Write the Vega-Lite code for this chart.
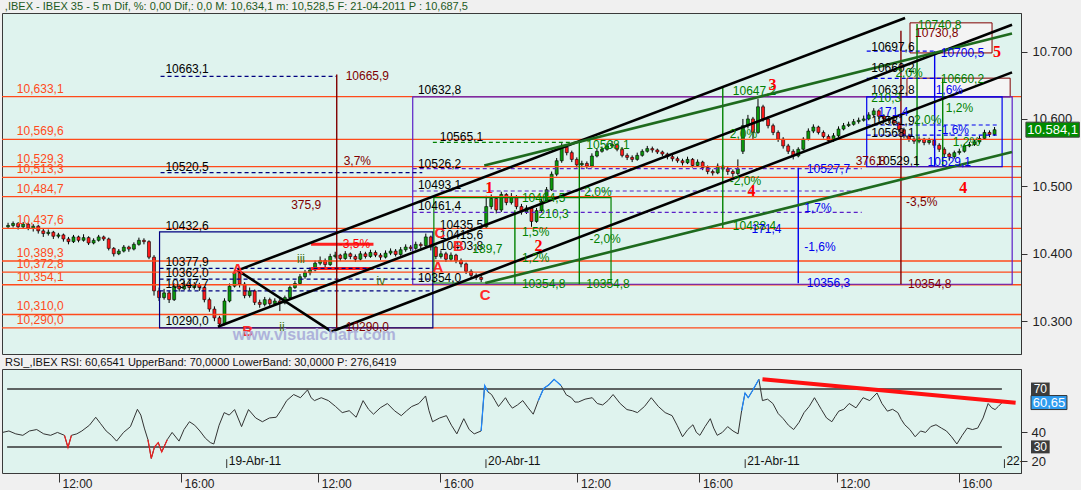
{
"$schema":"https://vega.github.io/schema/vega-lite/v6.json",
"padding":0,
"background":"#f0f0f0",
"spacing":1,
"title":{"text":",IBEX - IBEX 35 -  5 m Dif, %: 0,00 Dif,: 0,0 M: 10,634,1 m: 10,528,5 F: 21-04-2011 P : 10,687,5","anchor":"start","fontSize":11,"font":"Liberation Sans","fontWeight":"normal","color":"#1d5a1d","offset":1,"dx":4},
"config":{"view":{"stroke":"#3a3a3a","fill":"#dff3ee"},"axis":{"labelFont":"Liberation Sans","labelFontSize":12,"labelColor":"#222222","domainColor":"#333333","tickColor":"#333333","grid":false,"labelOverlap":false},"text":{"font":"Liberation Sans","fontSize":11}},
"datasets":{
"candles":[
{"i":7,"o":10440,"h":10446,"l":10437,"c":10442},{"i":8,"o":10442,"h":10448,"l":10439,"c":10445},{"i":9,"o":10445,"h":10447,"l":10436,"c":10440},{"i":10,"o":10440,"h":10447,"l":10438,"c":10444},{"i":11,"o":10444,"h":10446,"l":10435,"c":10438},{"i":12,"o":10438,"h":10444,"l":10433,"c":10441},{"i":13,"o":10441,"h":10443,"l":10430,"c":10434},{"i":14,"o":10434,"h":10437,"l":10425,"c":10430},{"i":15,"o":10430,"h":10436,"l":10427,"c":10432},{"i":16,"o":10432,"h":10434,"l":10422,"c":10426},{"i":17,"o":10426,"h":10431,"l":10423,"c":10428},{"i":18,"o":10428,"h":10430,"l":10418,"c":10422},{"i":19,"o":10422,"h":10425,"l":10414,"c":10418},{"i":20,"o":10418,"h":10428,"l":10416,"c":10425},{"i":21,"o":10425,"h":10427,"l":10417,"c":10420},{"i":22,"o":10420,"h":10429,"l":10418,"c":10424},{"i":23,"o":10424,"h":10426,"l":10413,"c":10416},{"i":24,"o":10416,"h":10423,"l":10414,"c":10420},{"i":25,"o":10420,"h":10428,"l":10418,"c":10425},{"i":26,"o":10425,"h":10427,"l":10419,"c":10422},{"i":27,"o":10422,"h":10424,"l":10405,"c":10408},{"i":28,"o":10408,"h":10410,"l":10396,"c":10400},{"i":29,"o":10400,"h":10407,"l":10398,"c":10404},{"i":30,"o":10404,"h":10413,"l":10402,"c":10410},{"i":31,"o":10410,"h":10412,"l":10403,"c":10407},{"i":32,"o":10407,"h":10417,"l":10405,"c":10414},{"i":33,"o":10414,"h":10424,"l":10412,"c":10420},{"i":34,"o":10420,"h":10423,"l":10414,"c":10418},{"i":35,"o":10418,"h":10420,"l":10392,"c":10395},{"i":36,"o":10395,"h":10398,"l":10338,"c":10345},{"i":37,"o":10345,"h":10350,"l":10330,"c":10335},{"i":38,"o":10335,"h":10348,"l":10332,"c":10342},{"i":39,"o":10342,"h":10345,"l":10327,"c":10332},{"i":40,"o":10332,"h":10356,"l":10330,"c":10352},{"i":41,"o":10352,"h":10355,"l":10344,"c":10348},{"i":42,"o":10348,"h":10360,"l":10346,"c":10355},{"i":43,"o":10355,"h":10358,"l":10346,"c":10350},{"i":44,"o":10350,"h":10358,"l":10347,"c":10354},{"i":45,"o":10354,"h":10357,"l":10345,"c":10350},{"i":46,"o":10350,"h":10352,"l":10328,"c":10332},{"i":47,"o":10332,"h":10335,"l":10314,"c":10318},{"i":48,"o":10318,"h":10322,"l":10300,"c":10305},{"i":49,"o":10305,"h":10308,"l":10290,"c":10296},{"i":50,"o":10296,"h":10334,"l":10294,"c":10330},
{"i":51,"o":10330,"h":10356,"l":10328,"c":10352},{"i":52,"o":10352,"h":10376,"l":10350,"c":10372},{"i":53,"o":10372,"h":10374,"l":10350,"c":10355},{"i":54,"o":10355,"h":10358,"l":10334,"c":10338},{"i":55,"o":10338,"h":10350,"l":10335,"c":10345},{"i":56,"o":10345,"h":10347,"l":10324,"c":10328},{"i":57,"o":10328,"h":10332,"l":10320,"c":10325},{"i":58,"o":10325,"h":10336,"l":10322,"c":10332},{"i":59,"o":10332,"h":10335,"l":10322,"c":10326},{"i":60,"o":10326,"h":10334,"l":10323,"c":10330},{"i":61,"o":10330,"h":10333,"l":10315,"c":10327},{"i":62,"o":10327,"h":10338,"l":10325,"c":10335},{"i":63,"o":10335,"h":10353,"l":10333,"c":10350},{"i":64,"o":10350,"h":10360,"l":10348,"c":10356},{"i":65,"o":10356,"h":10370,"l":10354,"c":10366},{"i":66,"o":10366,"h":10376,"l":10363,"c":10372},{"i":67,"o":10372,"h":10380,"l":10368,"c":10376},{"i":68,"o":10376,"h":10390,"l":10374,"c":10386},{"i":69,"o":10386,"h":10396,"l":10383,"c":10390},{"i":70,"o":10390,"h":10393,"l":10380,"c":10384},{"i":71,"o":10384,"h":10400,"l":10382,"c":10396},{"i":72,"o":10396,"h":10403,"l":10393,"c":10398},{"i":73,"o":10398,"h":10400,"l":10389,"c":10393},{"i":74,"o":10393,"h":10404,"l":10391,"c":10400},{"i":75,"o":10400,"h":10402,"l":10392,"c":10396},{"i":76,"o":10396,"h":10399,"l":10388,"c":10392},{"i":77,"o":10392,"h":10404,"l":10390,"c":10400},{"i":78,"o":10400,"h":10403,"l":10393,"c":10396},{"i":79,"o":10396,"h":10406,"l":10394,"c":10402},{"i":80,"o":10402,"h":10405,"l":10395,"c":10398},{"i":81,"o":10398,"h":10401,"l":10391,"c":10395},{"i":82,"o":10395,"h":10405,"l":10393,"c":10401},{"i":83,"o":10401,"h":10408,"l":10398,"c":10404},{"i":84,"o":10404,"h":10407,"l":10396,"c":10399},{"i":85,"o":10399,"h":10410,"l":10397,"c":10406},{"i":86,"o":10406,"h":10414,"l":10403,"c":10410},{"i":87,"o":10410,"h":10413,"l":10404,"c":10408},{"i":88,"o":10408,"h":10418,"l":10406,"c":10414},{"i":89,"o":10414,"h":10417,"l":10408,"c":10412},{"i":90,"o":10412,"h":10430,"l":10410,"c":10425},{"i":91,"o":10425,"h":10427,"l":10405,"c":10410},{"i":92,"o":10410,"h":10412,"l":10392,"c":10396},{"i":93,"o":10396,"h":10405,"l":10393,"c":10400},{"i":94,"o":10400,"h":10403,"l":10388,"c":10392},{"i":95,"o":10392,"h":10402,"l":10389,"c":10398},{"i":96,"o":10398,"h":10400,"l":10386,"c":10390},{"i":97,"o":10390,"h":10393,"l":10380,"c":10385},{"i":98,"o":10385,"h":10387,"l":10370,"c":10374},{"i":99,"o":10374,"h":10377,"l":10364,"c":10368},{"i":100,"o":10368,"h":10371,"l":10361,"c":10365},{"i":101,"o":10365,"h":10368,"l":10358,"c":10362},
{"i":102,"o":10440,"h":10486,"l":10438,"c":10470},{"i":103,"o":10470,"h":10488,"l":10466,"c":10482},{"i":104,"o":10482,"h":10485,"l":10460,"c":10465},{"i":105,"o":10465,"h":10492,"l":10462,"c":10488},{"i":106,"o":10488,"h":10490,"l":10472,"c":10476},{"i":107,"o":10476,"h":10490,"l":10473,"c":10485},{"i":108,"o":10485,"h":10487,"l":10466,"c":10470},{"i":109,"o":10470,"h":10474,"l":10458,"c":10462},{"i":110,"o":10462,"h":10472,"l":10459,"c":10468},{"i":111,"o":10468,"h":10470,"l":10440,"c":10448},{"i":112,"o":10448,"h":10468,"l":10446,"c":10464},{"i":113,"o":10464,"h":10482,"l":10462,"c":10478},{"i":114,"o":10478,"h":10499,"l":10476,"c":10495},{"i":115,"o":10495,"h":10522,"l":10493,"c":10518},{"i":116,"o":10518,"h":10542,"l":10515,"c":10538},{"i":117,"o":10538,"h":10564,"l":10535,"c":10558},{"i":118,"o":10558,"h":10561,"l":10546,"c":10550},{"i":119,"o":10550,"h":10553,"l":10536,"c":10540},{"i":120,"o":10540,"h":10543,"l":10528,"c":10532},{"i":121,"o":10532,"h":10538,"l":10528,"c":10534},{"i":122,"o":10534,"h":10537,"l":10526,"c":10530},{"i":123,"o":10530,"h":10549,"l":10528,"c":10545},{"i":124,"o":10545,"h":10556,"l":10543,"c":10552},{"i":125,"o":10552,"h":10559,"l":10550,"c":10555},{"i":126,"o":10555,"h":10564,"l":10553,"c":10560},{"i":127,"o":10560,"h":10567,"l":10557,"c":10562},{"i":128,"o":10562,"h":10564,"l":10552,"c":10555},{"i":129,"o":10555,"h":10558,"l":10543,"c":10546},{"i":130,"o":10546,"h":10549,"l":10539,"c":10543},{"i":131,"o":10543,"h":10546,"l":10536,"c":10540},{"i":132,"o":10540,"h":10550,"l":10538,"c":10546},{"i":133,"o":10546,"h":10555,"l":10544,"c":10552},{"i":134,"o":10552,"h":10560,"l":10550,"c":10556},{"i":135,"o":10556,"h":10559,"l":10550,"c":10554},{"i":136,"o":10554,"h":10556,"l":10548,"c":10551},{"i":137,"o":10551,"h":10553,"l":10545,"c":10548},{"i":138,"o":10548,"h":10550,"l":10540,"c":10544},{"i":139,"o":10544,"h":10547,"l":10537,"c":10541},{"i":140,"o":10541,"h":10544,"l":10535,"c":10538},{"i":141,"o":10538,"h":10541,"l":10531,"c":10535},{"i":142,"o":10535,"h":10544,"l":10533,"c":10540},{"i":143,"o":10540,"h":10542,"l":10528,"c":10531},{"i":144,"o":10531,"h":10540,"l":10529,"c":10536},{"i":145,"o":10536,"h":10538,"l":10524,"c":10528},{"i":146,"o":10528,"h":10531,"l":10518,"c":10522},{"i":147,"o":10522,"h":10525,"l":10516,"c":10520},{"i":148,"o":10520,"h":10534,"l":10518,"c":10530},{"i":149,"o":10530,"h":10532,"l":10522,"c":10526},{"i":150,"o":10526,"h":10529,"l":10517,"c":10522},{"i":151,"o":10522,"h":10525,"l":10514,"c":10519},{"i":152,"o":10519,"h":10540,"l":10517,"c":10526},
{"i":153,"o":10552,"h":10600,"l":10548,"c":10590},{"i":154,"o":10590,"h":10606,"l":10586,"c":10600},{"i":155,"o":10600,"h":10603,"l":10570,"c":10580},{"i":156,"o":10580,"h":10630,"l":10578,"c":10618},{"i":157,"o":10618,"h":10621,"l":10596,"c":10600},{"i":158,"o":10600,"h":10604,"l":10586,"c":10590},{"i":159,"o":10590,"h":10593,"l":10576,"c":10580},{"i":160,"o":10580,"h":10583,"l":10566,"c":10570},{"i":161,"o":10570,"h":10573,"l":10556,"c":10560},{"i":162,"o":10560,"h":10563,"l":10548,"c":10552},{"i":163,"o":10552,"h":10555,"l":10540,"c":10545},{"i":164,"o":10545,"h":10558,"l":10543,"c":10555},{"i":165,"o":10555,"h":10573,"l":10553,"c":10570},{"i":166,"o":10570,"h":10586,"l":10568,"c":10582},{"i":167,"o":10582,"h":10592,"l":10579,"c":10588},{"i":168,"o":10588,"h":10590,"l":10577,"c":10580},{"i":169,"o":10580,"h":10583,"l":10571,"c":10574},{"i":170,"o":10574,"h":10577,"l":10564,"c":10568},{"i":171,"o":10568,"h":10579,"l":10566,"c":10575},{"i":172,"o":10575,"h":10589,"l":10573,"c":10585},{"i":173,"o":10585,"h":10594,"l":10583,"c":10590},{"i":174,"o":10590,"h":10596,"l":10588,"c":10592},{"i":175,"o":10592,"h":10600,"l":10590,"c":10596},{"i":176,"o":10596,"h":10602,"l":10593,"c":10598},{"i":177,"o":10598,"h":10605,"l":10596,"c":10600},{"i":178,"o":10600,"h":10610,"l":10598,"c":10606},{"i":179,"o":10606,"h":10616,"l":10603,"c":10612},{"i":180,"o":10612,"h":10614,"l":10600,"c":10604},{"i":181,"o":10604,"h":10607,"l":10596,"c":10600},{"i":182,"o":10600,"h":10603,"l":10594,"c":10598},{"i":183,"o":10598,"h":10601,"l":10590,"c":10594},{"i":184,"o":10594,"h":10596,"l":10580,"c":10584},{"i":185,"o":10584,"h":10587,"l":10571,"c":10575},{"i":186,"o":10575,"h":10578,"l":10566,"c":10570},{"i":187,"o":10570,"h":10573,"l":10563,"c":10567},{"i":188,"o":10567,"h":10574,"l":10564,"c":10570},{"i":189,"o":10570,"h":10572,"l":10561,"c":10565},{"i":190,"o":10565,"h":10572,"l":10562,"c":10568},{"i":191,"o":10568,"h":10570,"l":10557,"c":10561},{"i":192,"o":10561,"h":10564,"l":10551,"c":10555},{"i":193,"o":10555,"h":10558,"l":10543,"c":10548},{"i":194,"o":10548,"h":10550,"l":10538,"c":10544},{"i":195,"o":10544,"h":10553,"l":10541,"c":10550},{"i":196,"o":10550,"h":10556,"l":10547,"c":10552},{"i":197,"o":10552,"h":10563,"l":10550,"c":10560},{"i":198,"o":10560,"h":10566,"l":10558,"c":10562},{"i":199,"o":10562,"h":10570,"l":10560,"c":10566},{"i":200,"o":10566,"h":10575,"l":10563,"c":10571},{"i":201,"o":10571,"h":10584,"l":10569,"c":10580},{"i":202,"o":10580,"h":10583,"l":10573,"c":10577},{"i":203,"o":10577,"h":10588,"l":10575,"c":10584}
],
"levels":[{"p":10633.1,"lab":"10,633,1"},{"p":10569.6,"lab":"10,569,6"},{"p":10529.3,"lab":"10,529,3"},{"p":10513.3,"lab":"10,513,3"},{"p":10484.7,"lab":"10,484,7"},{"p":10437.6,"lab":"10,437,6"},{"p":10389.3,"lab":"10,389,3"},{"p":10372.8,"lab":"10,372,8"},{"p":10354.1,"lab":"10,354,1"},{"p":10310.0,"lab":"10,310,0"},{"p":10290.0,"lab":"10,290,0"}],
"chan":[
{"id":"L1","g":"pitch","i":52.62,"p":10375.4},{"id":"L1","g":"pitch","i":185.22,"p":10749.7},
{"id":"L2","g":"pitch","i":48.69,"p":10291.9},{"id":"L2","g":"pitch","i":206.47,"p":10739.6},
{"id":"L3","g":"pitch","i":71.31,"p":10284.7},{"id":"L3","g":"pitch","i":206.47,"p":10669.1},
{"id":"V","g":"pitch","i":52.62,"p":10375.4},{"id":"V","g":"pitch","i":71.31,"p":10284.7},
{"id":"G1","g":"chan","i":101.61,"p":10530.9},{"id":"G1","g":"chan","i":206.47,"p":10726.7},
{"id":"G2","g":"chan","i":101.81,"p":10356.7},{"id":"G2","g":"chan","i":206.47,"p":10551.0}
],
"vseg":[
{"i":72.3,"p1":10665.9,"p2":10290.0,"g":"rng"},{"i":184.4,"p1":10730.8,"p2":10354.8,"g":"rng"},{"i":164,"p1":10527.7,"p2":10356.3,"g":"tgt"},{"i":149,"p1":10647.2,"p2":10438.4,"g":"fib"},{"i":107.7,"p1":10464.5,"p2":10354.8,"g":"fib"},{"i":120.5,"p1":10568.1,"p2":10354.8,"g":"fib"},{"i":191.1,"p1":10700.5,"p2":10529.1,"g":"tgt"},{"i":192.7,"p1":10660.2,"p2":10529.1,"g":"fib"},{"i":187.6,"p1":10740.8,"p2":10529.1,"g":"fib"}
],
"hseg":[
{"i1":37.3,"i2":72.3,"p":10663.1,"g":"nav"},{"i1":37.3,"i2":89.3,"p":10520.5,"g":"nav"},{"i1":37.1,"i2":91.4,"p":10378.3,"g":"nav"},{"i1":37.1,"i2":91.4,"p":10362.4,"g":"nav"},{"i1":37.1,"i2":91.4,"p":10345.1,"g":"nav"},
{"i1":87.4,"i2":176.6,"p":10526.2,"g":"pur"},{"i1":87.4,"i2":176.6,"p":10493.1,"g":"pur"},{"i1":87.4,"i2":176.6,"p":10461.4,"g":"pur"},
{"i1":91.4,"i2":120.9,"p":10565.1,"g":"fib"},{"i1":177.6,"i2":191.1,"p":10700.5,"g":"tgt"},{"i1":177.6,"i2":192.7,"p":10660.2,"g":"tgt"},{"i1":177.6,"i2":204,"p":10591,"g":"tgt"},{"i1":177.6,"i2":204,"p":10576,"g":"tgt"}
],
"boxes":[
{"i1":87.4,"i2":206.5,"p1":10632.8,"p2":10354.8,"g":"pur"},{"i1":37.1,"i2":91.4,"p1":10432.6,"p2":10290.0,"g":"nav"},{"i1":177.6,"i2":204.5,"p1":10632.8,"p2":10529.1,"g":"tgt"},{"i1":91.6,"i2":126.8,"p1":10483.4,"p2":10356.7,"g":"fib"}
],
"redbox":[{"i1":67.2,"i2":79.6,"p":10414.2},{"i1":67.2,"i2":79.6,"p":10378.3}],
"panels":[{"i1":186.2,"i2":202.5,"p1":10742.5,"p2":10697.9},{"i1":185.6,"i2":206.1,"p1":10660.5,"p2":10632.8}],
"notes":[
{"i":38.26,"p":10673.4,"t":"10663,1","g":"lvl"},{"i":38.26,"p":10529.4,"t":"10520,5","g":"lvl"},{"i":38.26,"p":10441.6,"t":"10432,6","g":"lvl"},{"i":38.26,"p":10388.3,"t":"10377,9","g":"lvl"},{"i":38.26,"p":10371.1,"t":"10362,0","g":"lvl"},{"i":38.26,"p":10354.5,"t":"10347,7","g":"lvl"},{"i":38.26,"p":10300.5,"t":"10290,0","g":"lvl"},
{"i":88.43,"p":10643.2,"t":"10632,8","g":"lvl"},{"i":92.76,"p":10572.6,"t":"10565,1","g":"lvl"},{"i":88.43,"p":10533.8,"t":"10526,2","g":"lvl"},{"i":88.43,"p":10502.1,"t":"10493,1","g":"lvl"},{"i":88.43,"p":10470.4,"t":"10461,4","g":"lvl"},{"i":92.76,"p":10443.0,"t":"10435,5","g":"lvl"},{"i":92.76,"p":10427.2,"t":"10415,6","g":"lvl"},{"i":92.76,"p":10411.4,"t":"10403,8","g":"lvl"},{"i":88.43,"p":10363.9,"t":"10354,0","g":"lvl"},
{"i":178.5,"p":10706.5,"t":"10697,6","g":"lvl"},{"i":178.5,"p":10674.9,"t":"10660,2","g":"lvl"},{"i":178.5,"p":10643.2,"t":"10632,8","g":"lvl"},{"i":178.5,"p":10597,"t":"10581,9","g":"lvl"},{"i":178.5,"p":10579.8,"t":"10568,1","g":"lvl"},{"i":179.5,"p":10538.1,"t":"10529,1","g":"lvl"},
{"i":63.25,"p":10471.8,"t":"375,9","g":"rng"},{"i":73.68,"p":10538.1,"t":"3,7%","g":"rng"},{"i":74.07,"p":10663.3,"t":"10665,9","g":"rng"},{"i":74.07,"p":10291.9,"t":"10290,0","g":"rng"},{"i":187.2,"p":10728.1,"t":"10730,8","g":"rng"},{"i":185.8,"p":10355.2,"t":"10354,8","g":"rng"},{"i":185.4,"p":10476.2,"t":"-3,5%","g":"rng"},{"i":175.4,"p":10538.1,"t":"376,8","g":"rng"},{"i":72.7,"p":10414.2,"t":"-3,5%","g":"wave"},
{"i":109.1,"p":10483.4,"t":"10464,5","g":"fib"},{"i":109.1,"p":10355.2,"t":"10354,8","g":"fib"},{"i":121.9,"p":10355.2,"t":"10354,8","g":"fib"},{"i":121.9,"p":10561.1,"t":"10568,1","g":"fib"},{"i":121.5,"p":10492,"t":"2,0%","g":"fib"},{"i":122.5,"p":10421.4,"t":"-2,0%","g":"fib"},{"i":109.1,"p":10394.1,"t":"1,2%","g":"fib"},{"i":109.1,"p":10433,"t":"1,5%","g":"fib"},{"i":99.25,"p":10407.1,"t":"189,7","g":"fib"},{"i":112.4,"p":10458.9,"t":"210,3","g":"fib"},{"i":151,"p":10641.7,"t":"10647,2","g":"fib"},{"i":151,"p":10441.6,"t":"10438,4","g":"fib"},{"i":150.4,"p":10577,"t":"2,0%","g":"fib"},{"i":150.4,"p":10507.8,"t":"-2,0%","g":"fib"},{"i":187.8,"p":10739.6,"t":"10740,8","g":"fib"},{"i":192.3,"p":10659,"t":"10660,2","g":"fib"},{"i":183.3,"p":10667.7,"t":"2,0%","g":"fib"},{"i":193.3,"p":10615.8,"t":"1,2%","g":"fib"},{"i":194.7,"p":10565.4,"t":"1,2%","g":"fib"},{"i":178.5,"p":10631.7,"t":"210,3","g":"fib"},{"i":187,"p":10598,"t":"2,0%","g":"fib"},
{"i":165.7,"p":10525.1,"t":"10527,7","g":"tgt"},{"i":165.7,"p":10356.7,"t":"10356,3","g":"tgt"},{"i":165.2,"p":10467.5,"t":"1,7%","g":"tgt"},{"i":165.2,"p":10409.9,"t":"-1,6%","g":"tgt"},{"i":192.3,"p":10697.9,"t":"10700,5","g":"tgt"},{"i":191.3,"p":10643.2,"t":"1,6%","g":"tgt"},{"i":179.9,"p":10610.1,"t":"171,4","g":"tgt"},{"i":191.7,"p":10584.1,"t":"-1,6%","g":"tgt"},{"i":154.7,"p":10437.3,"t":"171,4","g":"tgt"},{"i":189.7,"p":10536.6,"t":"10529,1","g":"tgt"},
{"i":64.4,"p":10392.7,"t":"iii","g":"sub"},{"i":60.9,"p":10291.9,"t":"ii","g":"sub"},{"i":80.2,"p":10359.5,"t":"iv","g":"sub"}
],
"waves":[{"i":102.6,"p":10497.8,"t":"1"},{"i":112.4,"p":10411.4,"t":"2"},{"i":158.9,"p":10650.4,"t":"3"},{"i":154.7,"p":10493.4,"t":"4"},{"i":196.8,"p":10497.8,"t":"4"},{"i":203.5,"p":10699.3,"t":"5"}],
"abc":[{"i":52.6,"p":10376.8,"t":"A"},{"i":92.4,"p":10381.1,"t":"A"},{"i":54.6,"p":10286.1,"t":"B"},{"i":101.8,"p":10339.4,"t":"C"},{"i":92.8,"p":10431.5,"t":"C"},{"i":96.5,"p":10411.4,"t":"B"}],
"mark":[{"t":"www.visualchart.com"}],
"last":[{"p":10584.1,"t":"10.584,1"}],
"rsi":[{"i":6.9,"r":40},{"i":8.15,"r":41},{"i":9.5,"r":39},{"i":10.89,"r":38},{"i":12.2,"r":41},{"i":13.62,"r":42},{"i":15,"r":39},{"i":16.35,"r":38},{"i":17.7,"r":40},{"i":19.08,"r":38},{"i":19.77,"r":29.6},{"i":20.45,"r":38},{"i":21.5,"r":39},{"i":22.5,"r":41},{"i":24,"r":45},{"i":25.23,"r":50.5},{"i":26.2,"r":46},{"i":27.28,"r":41},{"i":28.3,"r":38},{"i":29.33,"r":34},{"i":30.7,"r":40},{"i":32.06,"r":44},{"i":33.43,"r":56},{"i":34.1,"r":52},{"i":34.79,"r":43},{"i":35.5,"r":35},{"i":36.16,"r":22},{"i":36.8,"r":30},{"i":37.53,"r":33},{"i":38.21,"r":26.5},{"i":39.3,"r":35},{"i":40.26,"r":40},{"i":41.62,"r":34},{"i":42.6,"r":42},{"i":43.67,"r":47.4},{"i":44.7,"r":45},{"i":45.72,"r":41},{"i":46.8,"r":36},{"i":47.77,"r":33},{"i":48.46,"r":32},{"i":49.5,"r":45},{"i":50.5,"r":53.7},{"i":51.5,"r":52},{"i":52.55,"r":55.8},{"i":53.92,"r":44},{"i":54.6,"r":50},{"i":55.29,"r":55.8},{"i":56.7,"r":50},{"i":58.02,"r":47.4},{"i":59.4,"r":50},{"i":60.75,"r":50.5},{"i":61.8,"r":56},{"i":62.8,"r":62},{"i":64.17,"r":66.2},{"i":65.5,"r":64},{"i":66.9,"r":69.4},{"i":67.6,"r":64},{"i":68.26,"r":62},{"i":69.6,"r":64},{"i":71,"r":62},{"i":72.4,"r":58},{"i":73.73,"r":53.7},{"i":75.1,"r":55},{"i":76.46,"r":50.5},{"i":77.83,"r":62},{"i":78.9,"r":56},{"i":79.88,"r":52.6},{"i":81.2,"r":57},{"i":82.61,"r":60},{"i":84,"r":55},{"i":85.34,"r":51.6},{"i":86.4,"r":55},{"i":87.39,"r":57.9},{"i":88.8,"r":60},{"i":90.12,"r":65.2},{"i":90.8,"r":55},{"i":91.49,"r":47.4},{"i":92.9,"r":50},{"i":94.22,"r":51.6},{"i":95.2,"r":45},{"i":96.27,"r":39},{"i":97.64,"r":49.5},{"i":98.7,"r":42},{"i":99.69,"r":39},{"i":101.05,"r":41},{"i":101.74,"r":72.5},{"i":102.4,"r":68},{"i":103.1,"r":66.2},{"i":103.8,"r":62},{"i":104.47,"r":57.9},{"i":105.84,"r":64},{"i":106.5,"r":60},{"i":107.2,"r":56.8},{"i":108.2,"r":59},{"i":109.25,"r":62},{"i":110.3,"r":57},{"i":111.3,"r":52.6},{"i":112.3,"r":62},{"i":113.35,"r":70.4},{"i":114.4,"r":73},{"i":115.4,"r":76.7},{"i":116.76,"r":72.5},{"i":117.8,"r":66},{"i":118.81,"r":64},{"i":119.5,"r":61},{"i":120.18,"r":61},{"i":121.5,"r":63},{"i":122.91,"r":64},{"i":123.9,"r":60},{"i":124.96,"r":59},{"i":126,"r":62},{"i":127.01,"r":66.2},{"i":128.4,"r":60},{"i":129.74,"r":55.8},{"i":130.8,"r":55},{"i":131.79,"r":53.7},{"i":133.2,"r":58},{"i":134.52,"r":64},{"i":135.9,"r":58},{"i":137.26,"r":53.7},{"i":138.62,"r":51.6},{"i":139.6,"r":45},{"i":140.67,"r":37},{"i":141.7,"r":42},{"i":142.72,"r":45.3},{"i":143.4,"r":40},{"i":144.09,"r":38},{"i":145.1,"r":44},{"i":146.14,"r":49.5},{"i":146.8,"r":43},{"i":147.5,"r":38},{"i":148.5,"r":40},{"i":149.55,"r":44},{"i":150.6,"r":41},{"i":151.6,"r":39},{"i":152.3,"r":55},{"i":152.97,"r":67.3},{"i":153.6,"r":64},{"i":154.34,"r":68.3},{"i":155.7,"r":76.7},{"i":156.39,"r":62},{"i":157.4,"r":63},{"i":158.44,"r":60},{"i":159.5,"r":53},{"i":160.48,"r":49.5},{"i":161.5,"r":45},{"i":162.53,"r":42},{"i":163.6,"r":47},{"i":164.58,"r":53.7},{"i":165.6,"r":58},{"i":166.63,"r":64},{"i":167.3,"r":60},{"i":168,"r":55.8},{"i":169,"r":50},{"i":170.05,"r":47.4},{"i":170.7,"r":51},{"i":171.41,"r":54.7},{"i":172.4,"r":56},{"i":173.46,"r":60},{"i":174.8,"r":57},{"i":176.19,"r":64},{"i":177.5,"r":62},{"i":178.93,"r":67.3},{"i":179.9,"r":60},{"i":180.98,"r":54.7},{"i":182,"r":56},{"i":183.03,"r":53.7},{"i":183.7,"r":49},{"i":184.39,"r":45.3},{"i":185.4,"r":42},{"i":186.44,"r":37},{"i":187.5,"r":41},{"i":188.49,"r":40},{"i":189.5,"r":44},{"i":190.54,"r":45.3},{"i":191.6,"r":43},{"i":192.59,"r":41},{"i":193.6,"r":37},{"i":194.64,"r":32},{"i":195.7,"r":38},{"i":196.69,"r":43},{"i":197.7,"r":42},{"i":198.74,"r":43},{"i":199.8,"r":50},{"i":200.79,"r":60},{"i":201.5,"r":57},{"i":202.16,"r":55.8},{"i":202.8,"r":58},{"i":203.53,"r":60.6}],
"rsiHi":[{"s":"a","i":101.05,"r":41},{"s":"a","i":101.74,"r":72.5},{"s":"a","i":102.4,"r":68},{"s":"b","i":112.3,"r":62},{"s":"b","i":113.35,"r":70.4},{"s":"b","i":114.4,"r":73},{"s":"b","i":115.4,"r":76.7},{"s":"b","i":116.76,"r":72.5},{"s":"c","i":152.3,"r":55},{"s":"c","i":152.97,"r":67.3},{"s":"c","i":153.6,"r":64},{"s":"c","i":154.34,"r":68.3},{"s":"c","i":155.7,"r":76.7}],
"rsiLo":[{"s":"a","i":19.08,"r":38},{"s":"a","i":19.77,"r":29.6},{"s":"a","i":20.45,"r":38},{"s":"b","i":35.5,"r":35},{"s":"b","i":36.16,"r":22},{"s":"b","i":36.8,"r":30},{"s":"b","i":37.53,"r":33},{"s":"b","i":38.21,"r":26.5},{"s":"b","i":39.3,"r":35}],
"rsiTrend":[{"i":156.4,"r":76.7},{"i":206.2,"r":60.6}],
"bands":[{"r":70,"t":"70"},{"r":30,"t":"30"}],
"rsiLast":[{"r":60.65,"t":"60,65"}],
"days":[{"i":51,"t":"19-Abr-11"},{"i":102,"t":"20-Abr-11"},{"i":153,"t":"21-Abr-11"},{"i":204,"t":"22-Abr-11"}]
},
"vconcat":[
{"width":1019,"height":341,
"layer":[
{"data":{"name":"candles"},"mark":{"type":"rule","color":"#000000","strokeWidth":1},
"encoding":{"x":{"field":"i","type":"quantitative","scale":{"domain":[6.79,207.26],"nice":false,"zero":false},"axis":null},
"y":{"field":"l","type":"quantitative","scale":{"domain":[10258.8,10749.7],"nice":false,"zero":false},"title":null,
"axis":{"orient":"right","values":[10300,10400,10500,10600,10700],"labelExpr":"replace(format(datum.value, ','), ',', '.')","tickSize":6,"labelPadding":5,"labelFontSize":13,"labelOverlap":false,"domainColor":"#333333","title":null}},
"y2":{"field":"h"}}},
{"data":{"name":"candles"},"mark":{"type":"bar","width":3,"stroke":"#000000","strokeWidth":0.6},
"encoding":{"x":{"field":"i","type":"quantitative","scale":{"domain":[6.79,207.26],"nice":false,"zero":false},"axis":null},
"y":{"field":"o","type":"quantitative","scale":{"domain":[10258.8,10749.7],"nice":false,"zero":false},"title":null},
"y2":{"field":"c"},
"color":{"condition":{"test":"datum.c >= datum.o","value":"#0a9a0a"},"value":"#ff1a1a"}}},
{"data":{"name":"levels"},"mark":{"type":"rule","color":"#ff4a1a","strokeWidth":1.3},
"encoding":{"y":{"field":"p","type":"quantitative","scale":{"domain":[10258.8,10749.7],"nice":false,"zero":false},"title":null}}},
{"data":{"name":"levels"},"mark":{"type":"text","color":"#ff4a1a","align":"left","baseline":"bottom","dy":-1,"fontSize":12},
"encoding":{"x":{"datum":8.75,"type":"quantitative","scale":{"domain":[6.79,207.26],"nice":false,"zero":false},"axis":null},
"y":{"field":"p","type":"quantitative","scale":{"domain":[10258.8,10749.7],"nice":false,"zero":false},"title":null},
"text":{"field":"lab"}}},
{"data":{"name":"panels"},"mark":{"type":"rect","fill":"#f4f4f4","stroke":"#800000","strokeWidth":1,"clip":true},
"encoding":{"x":{"field":"i1","type":"quantitative","scale":{"domain":[6.79,207.26],"nice":false,"zero":false},"axis":null},"x2":{"field":"i2"},
"y":{"field":"p1","type":"quantitative","scale":{"domain":[10258.8,10749.7],"nice":false,"zero":false},"title":null},"y2":{"field":"p2"}}},
{"data":{"name":"boxes"},"mark":{"type":"rect","filled":false,"strokeWidth":1.2,"clip":true},
"encoding":{"x":{"field":"i1","type":"quantitative","scale":{"domain":[6.79,207.26],"nice":false,"zero":false},"axis":null},"x2":{"field":"i2"},
"y":{"field":"p1","type":"quantitative","scale":{"domain":[10258.8,10749.7],"nice":false,"zero":false},"title":null},"y2":{"field":"p2"},
"color":{"field":"g","type":"nominal","scale":{"domain":["lvl","rng","fib","tgt","sub","nav","pur","pitch","chan","wave"],"range":["#000000","#800000","#008000","#0000ee","#3f6f10","#000080","#5b20c8","#000000","#1e6a1e","#ff0000"]},"legend":null}}},
{"data":{"name":"redbox"},"mark":{"type":"rule","color":"#ff2020","strokeWidth":3},
"encoding":{"x":{"field":"i1","type":"quantitative","scale":{"domain":[6.79,207.26],"nice":false,"zero":false},"axis":null},"x2":{"field":"i2"},
"y":{"field":"p","type":"quantitative","scale":{"domain":[10258.8,10749.7],"nice":false,"zero":false},"title":null}}},
{"data":{"name":"hseg"},"mark":{"type":"rule","strokeDash":[4,3],"strokeWidth":1.2},
"encoding":{"x":{"field":"i1","type":"quantitative","scale":{"domain":[6.79,207.26],"nice":false,"zero":false},"axis":null},"x2":{"field":"i2"},
"y":{"field":"p","type":"quantitative","scale":{"domain":[10258.8,10749.7],"nice":false,"zero":false},"title":null},
"color":{"field":"g","type":"nominal","scale":{"domain":["lvl","rng","fib","tgt","sub","nav","pur","pitch","chan","wave"],"range":["#000000","#800000","#008000","#0000ee","#3f6f10","#000080","#5b20c8","#000000","#1e6a1e","#ff0000"]},"legend":null}}},
{"data":{"name":"vseg"},"mark":{"type":"rule","strokeWidth":1.4},
"encoding":{"x":{"field":"i","type":"quantitative","scale":{"domain":[6.79,207.26],"nice":false,"zero":false},"axis":null},
"y":{"field":"p1","type":"quantitative","scale":{"domain":[10258.8,10749.7],"nice":false,"zero":false},"title":null},"y2":{"field":"p2"},
"color":{"field":"g","type":"nominal","scale":{"domain":["lvl","rng","fib","tgt","sub","nav","pur","pitch","chan","wave"],"range":["#000000","#800000","#008000","#0000ee","#3f6f10","#000080","#5b20c8","#000000","#1e6a1e","#ff0000"]},"legend":null}}},
{"data":{"name":"chan"},"mark":{"type":"line","strokeWidth":2.6,"clip":true},
"encoding":{"x":{"field":"i","type":"quantitative","scale":{"domain":[6.79,207.26],"nice":false,"zero":false},"axis":null},
"y":{"field":"p","type":"quantitative","scale":{"domain":[10258.8,10749.7],"nice":false,"zero":false},"title":null},
"detail":{"field":"id"},
"color":{"field":"g","type":"nominal","scale":{"domain":["lvl","rng","fib","tgt","sub","nav","pur","pitch","chan","wave"],"range":["#000000","#800000","#008000","#0000ee","#3f6f10","#000080","#5b20c8","#000000","#1e6a1e","#ff0000"]},"legend":null}}},
{"data":{"name":"notes"},"mark":{"type":"text","align":"left","baseline":"middle","fontSize":12,"clip":true},
"encoding":{"x":{"field":"i","type":"quantitative","scale":{"domain":[6.79,207.26],"nice":false,"zero":false},"axis":null},
"y":{"field":"p","type":"quantitative","scale":{"domain":[10258.8,10749.7],"nice":false,"zero":false},"title":null},
"text":{"field":"t"},
"color":{"field":"g","type":"nominal","scale":{"domain":["lvl","rng","fib","tgt","sub","nav","pur","pitch","chan","wave"],"range":["#000000","#800000","#008000","#0000ee","#3f6f10","#000080","#5b20c8","#000000","#1e6a1e","#ff0000"]},"legend":null}}},
{"data":{"name":"waves"},"mark":{"type":"text","align":"center","baseline":"middle","fontSize":16,"fontWeight":"bold","font":"Liberation Serif","color":"#ff0000","clip":true},
"encoding":{"x":{"field":"i","type":"quantitative","scale":{"domain":[6.79,207.26],"nice":false,"zero":false},"axis":null},
"y":{"field":"p","type":"quantitative","scale":{"domain":[10258.8,10749.7],"nice":false,"zero":false},"title":null},
"text":{"field":"t"}}},
{"data":{"name":"abc"},"mark":{"type":"text","align":"center","baseline":"middle","fontSize":15,"fontWeight":"bold","color":"#ff2a2a","clip":true},
"encoding":{"x":{"field":"i","type":"quantitative","scale":{"domain":[6.79,207.26],"nice":false,"zero":false},"axis":null},
"y":{"field":"p","type":"quantitative","scale":{"domain":[10258.8,10749.7],"nice":false,"zero":false},"title":null},
"text":{"field":"t"}}},
{"data":{"name":"mark"},"mark":{"type":"text","align":"left","baseline":"middle","fontSize":16,"fontWeight":"bold","color":"#a9acd9","opacity":0.9},
"encoding":{"x":{"datum":51.64,"type":"quantitative","scale":{"domain":[6.79,207.26],"nice":false,"zero":false},"axis":null},
"y":{"datum":10278.9,"type":"quantitative","scale":{"domain":[10258.8,10749.7],"nice":false,"zero":false},"title":null},
"text":{"field":"t"}}},
{"data":{"name":"last"},"mark":{"type":"bar","height":15,"fill":"#008c00","stroke":"#444444","strokeWidth":1},
"encoding":{"x":{"datum":209.23,"type":"quantitative","scale":{"domain":[6.79,207.26],"nice":false,"zero":false},"axis":null},"x2":{"datum":219.85},
"y":{"field":"p","type":"quantitative","scale":{"domain":[10258.8,10749.7],"nice":false,"zero":false},"title":null}}},
{"data":{"name":"last"},"mark":{"type":"text","align":"center","baseline":"middle","fontSize":13,"color":"#ffffff"},
"encoding":{"x":{"datum":214.54,"type":"quantitative","scale":{"domain":[6.79,207.26],"nice":false,"zero":false},"axis":null},
"y":{"field":"p","type":"quantitative","scale":{"domain":[10258.8,10749.7],"nice":false,"zero":false},"title":null},
"text":{"field":"t"}}}
]},
{"width":1019,"height":104,
"title":{"text":"RSI_,IBEX RSI: 60,6541 UpperBand: 70,0000 LowerBand: 30,0000 P: 276,6419","anchor":"start","fontSize":11,"font":"Liberation Sans","fontWeight":"normal","color":"#111111","offset":1,"dx":3},
"layer":[
{"data":{"name":"bands"},"mark":{"type":"rule","color":"#333333","strokeWidth":1.5},
"encoding":{"x":{"datum":7.8,"type":"quantitative","scale":{"domain":[6.79,207.26],"nice":false,"zero":false},"title":null},
"x2":{"datum":203.5},
"y":{"field":"r","type":"quantitative","scale":{"domain":[15.4,80.4],"nice":false,"zero":false},"title":null}}},
{"data":{"name":"rsi"},"mark":{"type":"line","color":"#333333","strokeWidth":1,"clip":true},
"encoding":{"x":{"field":"i","type":"quantitative","scale":{"domain":[6.79,207.26],"nice":false,"zero":false},"title":null,
"axis":{"orient":"bottom","values":[18,42,69,93,120,144,171,195],"labelExpr":"datum.value % 51 == 18 ? '12:00' : '16:00'","tickSize":9,"labelAlign":"left","labelBaseline":"middle","labelPadding":1,"labelOffset":3,"labelFontSize":12,"labelOverlap":false,"domain":false,"title":null}},
"y":{"field":"r","type":"quantitative","scale":{"domain":[15.4,80.4],"nice":false,"zero":false},"title":null,
"axis":{"orient":"right","values":[20,40],"tickSize":6,"labelPadding":4,"labelFontSize":13,"labelOverlap":false,"title":null}}}},
{"data":{"name":"rsiHi"},"mark":{"type":"line","color":"#1e88ff","strokeWidth":1.2},
"encoding":{"x":{"field":"i","type":"quantitative","scale":{"domain":[6.79,207.26],"nice":false,"zero":false},"title":null},
"y":{"field":"r","type":"quantitative","scale":{"domain":[15.4,80.4],"nice":false,"zero":false},"title":null},"detail":{"field":"s"}}},
{"data":{"name":"rsiLo"},"mark":{"type":"line","color":"#ee2020","strokeWidth":1.2},
"encoding":{"x":{"field":"i","type":"quantitative","scale":{"domain":[6.79,207.26],"nice":false,"zero":false},"title":null},
"y":{"field":"r","type":"quantitative","scale":{"domain":[15.4,80.4],"nice":false,"zero":false},"title":null},"detail":{"field":"s"}}},
{"data":{"name":"days"},"mark":{"type":"rule","color":"#333333","strokeWidth":1},
"encoding":{"x":{"field":"i","type":"quantitative","scale":{"domain":[6.79,207.26],"nice":false,"zero":false},"title":null},
"y":{"datum":15.4,"type":"quantitative","scale":{"domain":[15.4,80.4],"nice":false,"zero":false},"title":null},"y2":{"datum":21.5}}},
{"data":{"name":"days"},"mark":{"type":"text","align":"left","baseline":"middle","dx":2,"fontSize":12,"color":"#111111","clip":true},
"encoding":{"x":{"field":"i","type":"quantitative","scale":{"domain":[6.79,207.26],"nice":false,"zero":false},"title":null},
"y":{"datum":20,"type":"quantitative","scale":{"domain":[15.4,80.4],"nice":false,"zero":false},"title":null},"text":{"field":"t"}}},
{"data":{"name":"bands"},"mark":{"type":"bar","height":13,"fill":"#3c3c3c"},
"encoding":{"x":{"datum":209.23,"type":"quantitative","scale":{"domain":[6.79,207.26],"nice":false,"zero":false},"title":null},"x2":{"datum":212.9},
"y":{"field":"r","type":"quantitative","scale":{"domain":[15.4,80.4],"nice":false,"zero":false},"title":null}}},
{"data":{"name":"bands"},"mark":{"type":"text","align":"center","baseline":"middle","fontSize":12,"color":"#ffffff"},
"encoding":{"x":{"datum":211.07,"type":"quantitative","scale":{"domain":[6.79,207.26],"nice":false,"zero":false},"title":null},
"y":{"field":"r","type":"quantitative","scale":{"domain":[15.4,80.4],"nice":false,"zero":false},"title":null},"text":{"field":"t"}}},
{"data":{"name":"rsiLast"},"mark":{"type":"bar","height":14,"fill":"#2f9cf0","stroke":"#333333","strokeWidth":1},
"encoding":{"x":{"datum":209.23,"type":"quantitative","scale":{"domain":[6.79,207.26],"nice":false,"zero":false},"title":null},"x2":{"datum":216.3},
"y":{"field":"r","type":"quantitative","scale":{"domain":[15.4,80.4],"nice":false,"zero":false},"title":null}}},
{"data":{"name":"rsiLast"},"mark":{"type":"text","align":"center","baseline":"middle","fontSize":13,"color":"#ffffff"},
"encoding":{"x":{"datum":212.77,"type":"quantitative","scale":{"domain":[6.79,207.26],"nice":false,"zero":false},"title":null},
"y":{"field":"r","type":"quantitative","scale":{"domain":[15.4,80.4],"nice":false,"zero":false},"title":null},"text":{"field":"t"}}},
{"data":{"name":"rsiTrend"},"mark":{"type":"line","color":"#ff1010","strokeWidth":4},
"encoding":{"x":{"field":"i","type":"quantitative","scale":{"domain":[6.79,207.26],"nice":false,"zero":false},"title":null},
"y":{"field":"r","type":"quantitative","scale":{"domain":[15.4,80.4],"nice":false,"zero":false},"title":null}}}
]}
]
}
